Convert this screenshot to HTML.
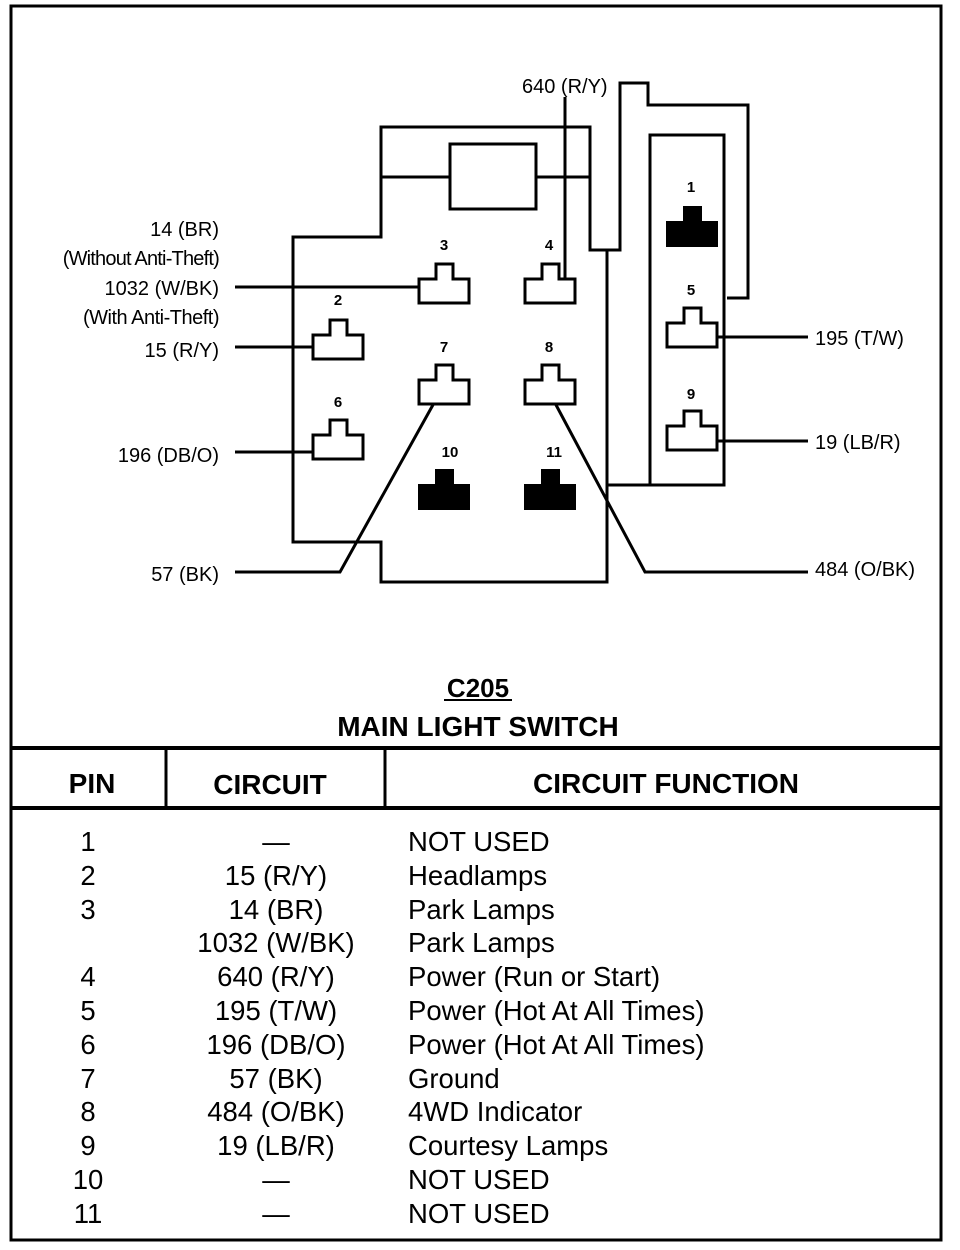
<!DOCTYPE html>
<html><head><style>
html,body{margin:0;padding:0;background:#fff;}
svg{display:block;}
text{font-family:"Liberation Sans",Arial,sans-serif;fill:#000;}
</style></head><body>
<svg width="960" height="1250" viewBox="0 0 960 1250" xmlns="http://www.w3.org/2000/svg">
<g fill="none" stroke="#000">
<rect x="11" y="6" width="930" height="1234" stroke-width="3"/>
<line x1="11" y1="748" x2="941" y2="748" stroke-width="4"/>
<line x1="11" y1="808" x2="941" y2="808" stroke-width="4"/>
<line x1="166" y1="748" x2="166" y2="808" stroke-width="3"/>
<line x1="385" y1="748" x2="385" y2="808" stroke-width="3"/>
<g stroke-width="3">
<polyline points="607,250 607,582 381,582 381,542 293,542 293,237 381,237 381,127 590,127 590,250 620,250 620,83 648,83 648,105 748,105 748,298 727,298"/>
<line x1="381" y1="177" x2="450" y2="177"/>
<line x1="536" y1="177" x2="590" y2="177"/>
<rect x="450" y="144" width="86" height="65"/>
<rect x="650" y="135" width="74" height="350"/>
<line x1="607" y1="485" x2="650" y2="485"/>
<line x1="565" y1="97" x2="565" y2="280"/>
<line x1="235" y1="287" x2="419" y2="287"/>
<line x1="235" y1="347" x2="313" y2="347"/>
<line x1="235" y1="452" x2="313" y2="452"/>
<polyline points="235,572 340,572 434,403"/>
<polyline points="555,403 645,572 808,572"/>
<line x1="716" y1="337" x2="808" y2="337"/>
<line x1="716" y1="441" x2="808" y2="441"/>
</g>
</g>
<defs>
<path id="t" d="M0,15 H17 V0 H34 V15 H50 V39 H0 Z"/>
</defs>
<g fill="#fff" stroke="#000" stroke-width="3">
<use href="#t" x="419" y="264"/>
<use href="#t" x="525" y="264"/>
<use href="#t" x="313" y="320"/>
<use href="#t" x="419" y="365"/>
<use href="#t" x="525" y="365"/>
<use href="#t" x="313" y="420"/>
<use href="#t" x="667" y="308"/>
<use href="#t" x="667" y="411"/>
</g>
<g fill="#000" stroke="#000" stroke-width="2">
<use href="#t" x="419" y="470"/>
<use href="#t" x="525" y="470"/>
<use href="#t" x="667" y="207"/>
</g>
<g font-size="15" font-weight="bold" text-anchor="middle">
<text x="444" y="250">3</text><text x="549" y="250">4</text>
<text x="338" y="305">2</text><text x="444" y="352">7</text>
<text x="549" y="352">8</text><text x="338" y="407">6</text>
<text x="450" y="457">10</text><text x="554" y="457">11</text>
<text x="691" y="192">1</text><text x="691" y="295">5</text>
<text x="691" y="399">9</text>
</g>
<g font-size="20">
<text x="219" y="236" text-anchor="end">14 (BR)</text>
<text x="219" y="265" text-anchor="end" letter-spacing="-0.8">(Without Anti-Theft)</text>
<text x="219" y="295" text-anchor="end">1032 (W/BK)</text>
<text x="219" y="324" text-anchor="end" letter-spacing="-0.5">(With Anti-Theft)</text>
<text x="219" y="357" text-anchor="end">15 (R/Y)</text>
<text x="219" y="462" text-anchor="end">196 (DB/O)</text>
<text x="219" y="581" text-anchor="end">57 (BK)</text>
<text x="522" y="93">640 (R/Y)</text>
<text x="815" y="345">195 (T/W)</text>
<text x="815" y="449">19 (LB/R)</text>
<text x="815" y="576">484 (O/BK)</text>
</g>
<text x="478" y="697" font-size="26" font-weight="bold" text-anchor="middle">C205</text>
<line x1="444" y1="700" x2="512" y2="700" stroke="#000" stroke-width="2"/>
<text x="478" y="736" font-size="28" font-weight="bold" text-anchor="middle">MAIN LIGHT SWITCH</text>
<g font-size="28" font-weight="bold" text-anchor="middle">
<text x="92" y="793">PIN</text>
<text x="270" y="794">CIRCUIT</text>
<text x="666" y="793">CIRCUIT FUNCTION</text>
</g>
<g font-size="27.5">
<g text-anchor="middle">
<text x="88" y="851">1</text><text x="88" y="885">2</text><text x="88" y="919">3</text>
<text x="88" y="986">4</text><text x="88" y="1020">5</text><text x="88" y="1054">6</text>
<text x="88" y="1088">7</text><text x="88" y="1121">8</text><text x="88" y="1155">9</text>
<text x="88" y="1189">10</text><text x="88" y="1223">11</text>
<text x="276" y="851">—</text>
<text x="276" y="885">15 (R/Y)</text>
<text x="276" y="919">14 (BR)</text>
<text x="276" y="952">1032 (W/BK)</text>
<text x="276" y="986">640 (R/Y)</text>
<text x="276" y="1020">195 (T/W)</text>
<text x="276" y="1054">196 (DB/O)</text>
<text x="276" y="1088">57 (BK)</text>
<text x="276" y="1121">484 (O/BK)</text>
<text x="276" y="1155">19 (LB/R)</text>
<text x="276" y="1189">—</text>
<text x="276" y="1223">—</text>
</g>
<text x="408" y="851">NOT USED</text>
<text x="408" y="885">Headlamps</text>
<text x="408" y="919">Park Lamps</text>
<text x="408" y="952">Park Lamps</text>
<text x="408" y="986">Power (Run or Start)</text>
<text x="408" y="1020">Power (Hot At All Times)</text>
<text x="408" y="1054">Power (Hot At All Times)</text>
<text x="408" y="1088">Ground</text>
<text x="408" y="1121">4WD Indicator</text>
<text x="408" y="1155">Courtesy Lamps</text>
<text x="408" y="1189">NOT USED</text>
<text x="408" y="1223">NOT USED</text>
</g>
</svg>
</body></html>
